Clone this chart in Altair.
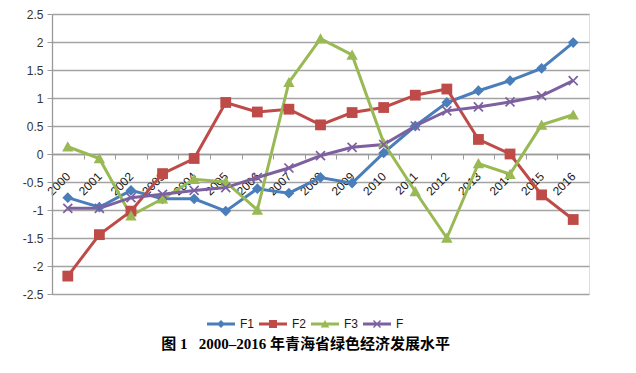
import altair as alt
import pandas as pd

years = ["2000", "2001", "2002", "2003", "2004", "2005", "2006", "2007", "2008",
         "2009", "2010", "2011", "2012", "2013", "2014", "2015", "2016"]
series = ["F1", "F2", "F3", "F"]
f1 = [-0.78, -0.95, -0.65, -0.80, -0.80, -1.02, -0.62, -0.70, -0.42,
      -0.52, 0.02, 0.50, 0.92, 1.13, 1.31, 1.53, 1.99]
f2 = [-2.18, -1.44, -1.02, -0.35, -0.08, 0.92, 0.75, 0.80, 0.52,
      0.74, 0.83, 1.05, 1.16, 0.26, 0.00, -0.73, -1.17]
f3 = [0.13, -0.08, -1.10, -0.80, -0.45, -0.50, -1.00, 1.28, 2.06,
      1.77, 0.20, -0.67, -1.50, -0.17, -0.36, 0.52, 0.70]
f = [-0.97, -0.97, -0.78, -0.72, -0.65, -0.60, -0.42, -0.25, -0.03,
     0.12, 0.17, 0.50, 0.77, 0.84, 0.93, 1.04, 1.31]
colors = ["#4A7EBB", "#BE4B48", "#98B954", "#7D60A0"]
y_ticks = [-2.5, -2, -1.5, -1, -0.5, 0, 0.5, 1, 1.5, 2, 2.5]
title_text = "图 1\u00a0\u00a0\u00a02000–2016 年青海省绿色经济发展水平"

rows = []
for name, vals in zip(series, [f1, f2, f3, f]):
    for yr, v in zip(years, vals):
        rows.append({"year": yr, "series": name, "value": v})
df = pd.DataFrame(rows)

xcode = alt.X(
    "year:O", sort=years, bandPosition=0.5, title=None,
    scale=alt.Scale(type="band", paddingInner=0, paddingOuter=0),
    axis=alt.Axis(offset=-140, tickBand="extent", tickSize=5, labelAngle=-45,
                  labelAlign="right", labelBaseline="middle", labelPadding=15,
                  grid=False, domainColor="#9a9a9a", tickColor="#9a9a9a",
                  domainWidth=1.3, labelFont="Liberation Sans", labelFontSize=12,
                  labelColor="#1a1a1a"),
)
ycode = alt.Y(
    "value:Q", title=None,
    scale=alt.Scale(domain=[-2.5, 2.5], nice=False, zero=False),
    axis=alt.Axis(values=y_ticks, labelExpr="'' + datum.value", tickSize=5,
                  labelPadding=4, grid=True, gridColor="#a3a3a3", gridWidth=1.3,
                  domainColor="#9a9a9a", tickColor="#9a9a9a", domainWidth=1.3,
                  labelFont="Liberation Sans", labelFontSize=12, labelColor="#333333"),
)

cscale = alt.Scale(domain=series, range=colors)
marker_paths = [
    "M0,-0.9L0.9,0L0,0.9L-0.9,0Z",
    "M-0.9,-0.9H0.9V0.9H-0.9Z",
    "M0,-0.9L0.95,0.8H-0.95Z",
    "M-0.85,-0.65L-0.65,-0.85L0,-0.2L0.65,-0.85L0.85,-0.65L0.2,0L0.85,0.65L0.65,0.85L0,0.2L-0.65,0.85L-0.85,0.65L-0.2,0Z",
]
bar = "M-2.8,-0.3H2.8V0.3H-2.8Z"
legend_paths = [
    bar + "M0,-0.8L0.8,0L0,0.8L-0.8,0Z",
    bar + "M-0.8,-0.8H0.8V0.8H-0.8Z",
    bar + "M0,-0.8L0.85,0.7H-0.85Z",
    bar + "M-0.8,-0.6L-0.6,-0.8L0,-0.2L0.6,-0.8L0.8,-0.6L0.2,0L0.8,0.6L0.6,0.8L0,0.2L-0.6,0.8L-0.8,0.6L-0.2,0Z",
]

base = alt.Chart(df)
lines = base.mark_line(strokeWidth=3).encode(
    x=xcode, y=ycode,
    color=alt.Color("series:N", scale=cscale, legend=None),
    detail="series:N",
    order=alt.Order("year:O"),
)
markers = base.mark_point(filled=True, opacity=1, size=144).encode(
    x=xcode, y=ycode,
    color=alt.Color("series:N", scale=cscale, legend=None),
    shape=alt.Shape("series:N", scale=alt.Scale(domain=series, range=marker_paths), legend=None),
)
leg = alt.Legend(title=None, orient="none", legendX=163, legendY=304, direction="horizontal",
                 symbolSize=100, symbolStrokeWidth=0, labelOffset=13, columnPadding=4,
                 labelFont="Liberation Sans", labelFontSize=12, labelColor="#1a1a1a")
legend_layer = base.mark_point(filled=True, opacity=1).encode(
    x=xcode, y=ycode,
    color=alt.Color("series:N", scale=cscale, legend=leg),
    shape=alt.Shape("series:N", scale=alt.Scale(domain=series, range=legend_paths), legend=leg),
).transform_filter("false")

chart = alt.layer(lines, markers, legend_layer).resolve_scale(
    color="independent", shape="independent"
).properties(
    width=537, height=280,
    autosize=alt.AutoSizeParams(type="none"),
    padding={"left": 44, "top": 6, "right": 39, "bottom": 71},
    title=alt.TitleParams(title_text, orient="bottom", anchor="middle", dx=-15, offset=7,
                          font='"Liberation Serif", "Noto Sans CJK SC"', fontSize=15,
                          fontWeight="bold", color="#000000"),
).configure_view(stroke=None).configure(background="white")

chart.save("out.html", embed_options={"renderer": "svg", "actions": False})
